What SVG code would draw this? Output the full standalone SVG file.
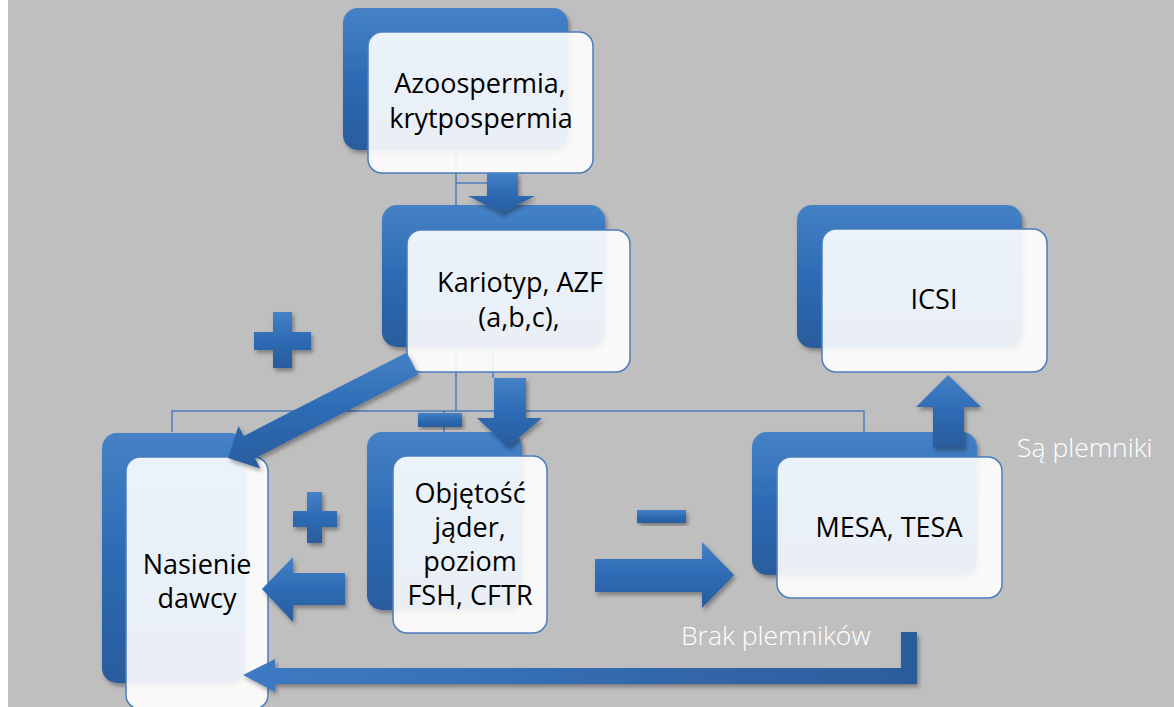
<svg xmlns="http://www.w3.org/2000/svg" width="1174" height="707" viewBox="0 0 1174 707">
  <style>
    .back { fill: url(#blueGrad); filter: url(#shadow); }
    .front { fill: #ffffff; fill-opacity: 0.9; stroke: #4a7ebb; stroke-width: 1.5; }
    .label { font-family: "Open Sans", "Liberation Sans", sans-serif; font-size: 27px; fill: #000000; text-anchor: middle; }
    .note { font-family: "Open Sans", "Liberation Sans", sans-serif; font-size: 26.5px; font-weight: 300; fill: #ffffff; }
    .wire { fill: none; stroke: #4a7ebb; stroke-width: 1.5; }
    .arrow { fill: url(#blueGrad); filter: url(#shadow); }
    .sign { fill: url(#blueGrad); filter: url(#shadow); }
  </style>
  <defs>
    <linearGradient id="blueGrad" x1="0" y1="0" x2="0" y2="1">
      <stop offset="0" stop-color="#4581c6"/>
      <stop offset="0.5" stop-color="#2d6bb4"/>
      <stop offset="1" stop-color="#2b5c9d"/>
    </linearGradient>
    <linearGradient id="returnGrad" x1="0" y1="0" x2="1" y2="0">
      <stop offset="0" stop-color="#3d7bc4"/>
      <stop offset="1" stop-color="#2c5c9c"/>
    </linearGradient>
    <filter id="shadow" x="-10%" y="-10%" width="130%" height="130%">
      <feDropShadow dx="2" dy="3" stdDeviation="2" flood-color="#000000" flood-opacity="0.35"/>
    </filter>
  </defs>

  <!-- background -->
  <rect x="0" y="0" width="1174" height="707" fill="#bfbfbf"/>
  <rect x="0" y="0" width="8" height="707" fill="#ffffff"/>

  <!-- hierarchy wires -->
  <g id="connectors">
    <path class="wire" d="M456 150 V205"/>
    <path class="wire" d="M456 183 H487"/>
    <path class="wire" d="M456 347 V411"/>
    <path class="wire" d="M493 347 V378"/>
    <path class="wire" d="M172 432 V411 H864 V432"/>
    <path class="wire" d="M444 411 V432"/>
  </g>

  <g id="node-azoospermia">
    <rect class="back" x="343" y="8" width="225" height="142" rx="15"/>
    <rect class="front" x="368" y="32" width="225" height="141" rx="14"/>
    <text class="label" x="480" y="93">Azoospermia,</text>
    <text class="label" x="481" y="128">krytpospermia</text>
  </g>

  <g id="node-kariotyp">
    <rect class="back" x="382" y="205" width="223" height="142" rx="15"/>
    <rect class="front" x="407" y="230" width="223" height="142" rx="14"/>
    <text class="label" x="520" y="292">Kariotyp, AZF</text>
    <text class="label" x="519" y="327">(a,b,c),</text>
  </g>

  <g id="node-icsi">
    <rect class="back" x="797" y="205" width="225" height="143" rx="15"/>
    <rect class="front" x="822" y="229" width="225" height="143" rx="14"/>
    <text class="label" x="934" y="309">ICSI</text>
  </g>

  <g id="node-nasienie">
    <rect class="back" x="102" y="433" width="143" height="250" rx="15"/>
    <rect class="front" x="126" y="457" width="142" height="252" rx="14"/>
    <text class="label" x="197" y="574">Nasienie</text>
    <text class="label" x="197" y="608">dawcy</text>
  </g>

  <g id="node-objetosc">
    <rect class="back" x="367" y="432" width="155" height="178" rx="15"/>
    <rect class="front" x="393" y="456" width="154" height="177" rx="14"/>
    <text class="label" x="470" y="503">Objętość</text>
    <text class="label" x="470" y="537">jąder,</text>
    <text class="label" x="470" y="571">poziom</text>
    <text class="label" x="470" y="605">FSH, CFTR</text>
  </g>

  <g id="node-mesa">
    <rect class="back" x="752" y="432" width="225" height="143" rx="15"/>
    <rect class="front" x="777" y="457" width="225" height="141" rx="14"/>
    <text class="label" x="889" y="537">MESA, TESA</text>
  </g>

  <!-- block arrows -->
  <g id="arrows">
    <polygon class="arrow" points="487,173 518,173 518,196 535,196 502,213 468,196 487,196"/>
    <polygon class="arrow" points="406.8,352.4 243.7,436 238.5,425.7 228,458 260.3,468.5 255.1,458.2 418.2,374.6"/>
    <polygon class="arrow" points="494,378 526,378 526,418 542,418 508,447 477,418 494,418"/>
    <polygon class="arrow" points="345,573 293,573 293,557 262,589 293,622 293,605 345,605"/>
    <polygon class="arrow" points="595,559 702,559 702,542 734,575 702,608 702,592 595,592"/>
    <polygon class="arrow" points="933,447 964,447 964,407 981,407 948,375 916,407 933,407"/>
    <polygon points="901,632 917,632 917,684 275,684 275,692 243,675 275,659 275,668 901,668" fill="url(#returnGrad)" filter="url(#shadow)"/>
  </g>

  <!-- plus / minus signs -->
  <g id="signs">
    <path class="sign" d="M273 312 H292 V332 H311 V350 H292 V368 H273 V350 H254 V332 H273 Z"/>
    <path class="sign" d="M307 492 H322 V511 H337 V527 H322 V543 H307 V527 H293 V511 H307 Z"/>
    <rect class="sign" x="418" y="413" width="44" height="14"/>
    <rect class="sign" x="637" y="510" width="49" height="13"/>
  </g>

  <g id="notes">
    <text class="note" x="1017" y="457">Są plemniki</text>
    <text class="note" x="681" y="645">Brak plemników</text>
  </g>
</svg>
